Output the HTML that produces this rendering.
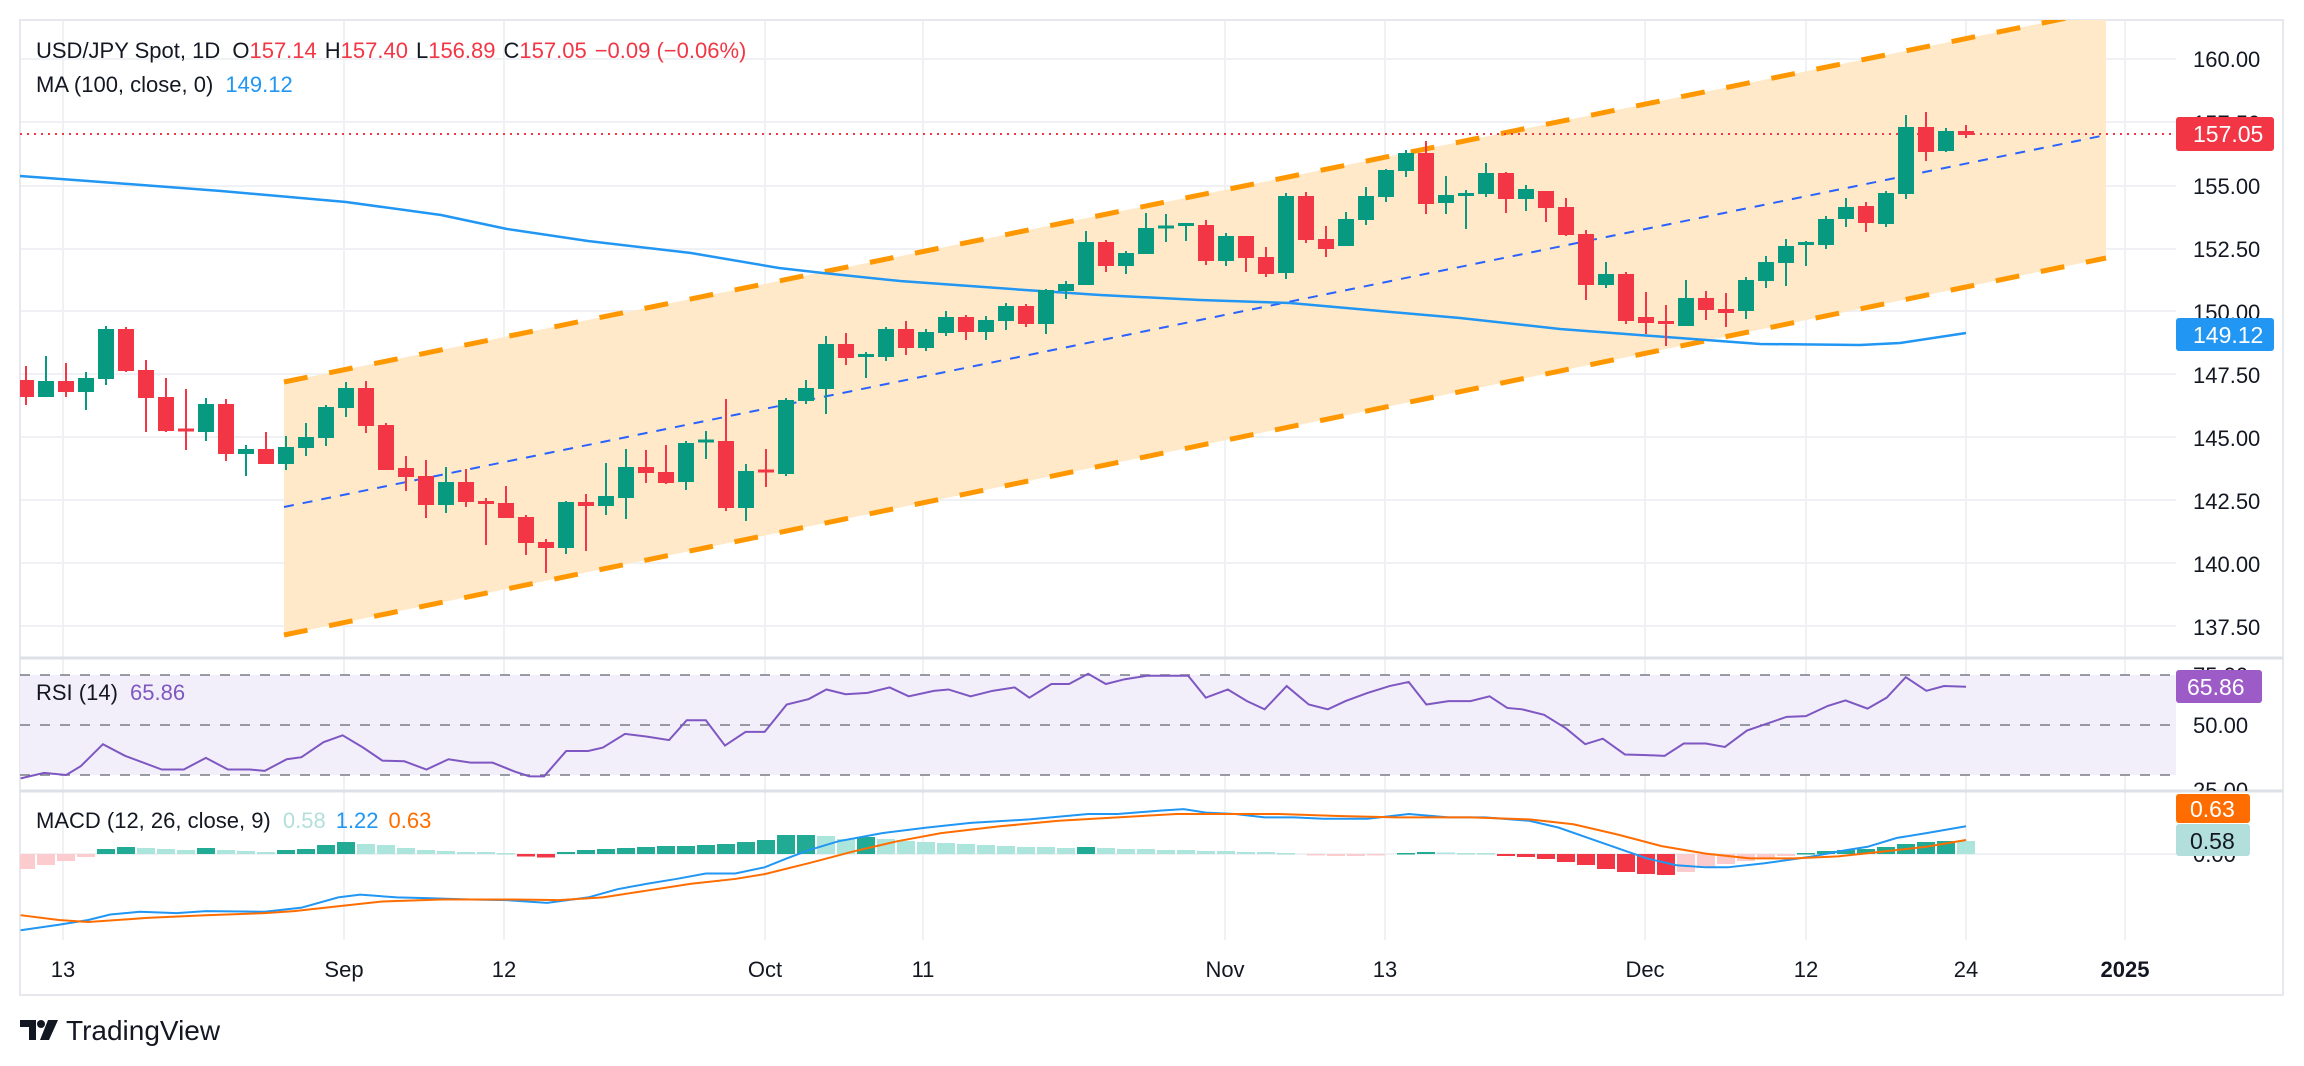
<!DOCTYPE html>
<html><head><meta charset="utf-8"><style>
html,body{margin:0;padding:0;background:#fff;}
svg{display:block;font-family:"Liberation Sans",sans-serif;}
</style></head><body>
<svg width="2304" height="1066" viewBox="0 0 2304 1066" xmlns="http://www.w3.org/2000/svg">
<defs>
<clipPath id="cm"><rect x="20" y="20" width="2156" height="638"/></clipPath>
<clipPath id="cr"><rect x="20" y="660" width="2264" height="131"/></clipPath>
<clipPath id="cd"><rect x="20" y="793" width="2156" height="152"/></clipPath>
</defs>
<rect x="0" y="0" width="2304" height="1066" fill="#fff"/>
<g stroke="#f0f1f4" stroke-width="2">
<line x1="20" y1="59" x2="2176" y2="59"/><line x1="20" y1="122" x2="2176" y2="122"/><line x1="20" y1="186" x2="2176" y2="186"/><line x1="20" y1="249" x2="2176" y2="249"/><line x1="20" y1="311" x2="2176" y2="311"/><line x1="20" y1="374" x2="2176" y2="374"/><line x1="20" y1="437" x2="2176" y2="437"/><line x1="20" y1="500" x2="2176" y2="500"/><line x1="20" y1="563" x2="2176" y2="563"/><line x1="20" y1="626" x2="2176" y2="626"/>
<line x1="63" y1="20" x2="63" y2="940"/><line x1="344" y1="20" x2="344" y2="940"/><line x1="504" y1="20" x2="504" y2="940"/><line x1="765" y1="20" x2="765" y2="940"/><line x1="923" y1="20" x2="923" y2="940"/><line x1="1225" y1="20" x2="1225" y2="940"/><line x1="1385" y1="20" x2="1385" y2="940"/><line x1="1645" y1="20" x2="1645" y2="940"/><line x1="1806" y1="20" x2="1806" y2="940"/><line x1="1966" y1="20" x2="1966" y2="940"/><line x1="2125" y1="20" x2="2125" y2="940"/>
</g>
<rect x="20" y="20" width="2263" height="975" fill="none" stroke="#e6e8ee" stroke-width="2"/>
<line x1="20" y1="658" x2="2283" y2="658" stroke="#dde0e6" stroke-width="3"/>
<line x1="20" y1="791" x2="2283" y2="791" stroke="#dde0e6" stroke-width="3"/>

<g clip-path="url(#cm)">
  <polygon points="284,382 2106,10 2106,258 284,635" fill="#ffe9c9"/>
  <line x1="284" y1="382" x2="2106" y2="10" stroke="#ff9800" stroke-width="5" stroke-dasharray="24,22"/>
  <line x1="284" y1="635" x2="2106" y2="258" stroke="#ff9800" stroke-width="5" stroke-dasharray="24,22"/>
  <line x1="284" y1="507" x2="2106" y2="135" stroke="#2962ff" stroke-width="2" stroke-dasharray="10,9"/>
  <polyline fill="none" stroke="#2196f3" stroke-width="2.5" points="20,176 88,181 221,191 346,202 441,215 507,229 588,241 691,253 779,268 823,273 900,281 1025,290 1100,295 1200,300 1290,303 1380,311 1460,318 1560,329 1666,337 1760,344 1860,345 1900,343 1966,333"/>
  <line x1="20" y1="134" x2="2176" y2="134" stroke="#f23645" stroke-width="2" stroke-dasharray="2,5"/>
  <g stroke="#089981" stroke-width="2">
<line x1="46" y1="356" x2="46" y2="397"/><line x1="86" y1="372" x2="86" y2="410"/><line x1="106" y1="326" x2="106" y2="385"/><line x1="206" y1="398" x2="206" y2="441"/><line x1="246" y1="445" x2="246" y2="476"/><line x1="286" y1="436" x2="286" y2="470"/><line x1="306" y1="423" x2="306" y2="456"/><line x1="326" y1="405" x2="326" y2="446"/><line x1="346" y1="382" x2="346" y2="417"/><line x1="446" y1="467" x2="446" y2="513"/><line x1="566" y1="501" x2="566" y2="554"/><line x1="606" y1="463" x2="606" y2="515"/><line x1="626" y1="449" x2="626" y2="519"/><line x1="686" y1="441" x2="686" y2="490"/><line x1="706" y1="431" x2="706" y2="459"/><line x1="746" y1="464" x2="746" y2="521"/><line x1="786" y1="398" x2="786" y2="476"/><line x1="806" y1="380" x2="806" y2="404"/><line x1="826" y1="336" x2="826" y2="414"/><line x1="866" y1="352" x2="866" y2="378"/><line x1="886" y1="327" x2="886" y2="361"/><line x1="926" y1="329" x2="926" y2="351"/><line x1="946" y1="311" x2="946" y2="336"/><line x1="986" y1="316" x2="986" y2="340"/><line x1="1006" y1="303" x2="1006" y2="330"/><line x1="1046" y1="289" x2="1046" y2="334"/><line x1="1066" y1="281" x2="1066" y2="299"/><line x1="1086" y1="231" x2="1086" y2="285"/><line x1="1126" y1="251" x2="1126" y2="274"/><line x1="1146" y1="213" x2="1146" y2="254"/><line x1="1166" y1="214" x2="1166" y2="242"/><line x1="1186" y1="223" x2="1186" y2="241"/><line x1="1226" y1="233" x2="1226" y2="266"/><line x1="1286" y1="193" x2="1286" y2="279"/><line x1="1346" y1="212" x2="1346" y2="246"/><line x1="1366" y1="187" x2="1366" y2="225"/><line x1="1386" y1="169" x2="1386" y2="202"/><line x1="1406" y1="150" x2="1406" y2="177"/><line x1="1446" y1="176" x2="1446" y2="214"/><line x1="1466" y1="190" x2="1466" y2="229"/><line x1="1486" y1="163" x2="1486" y2="197"/><line x1="1526" y1="185" x2="1526" y2="211"/><line x1="1606" y1="262" x2="1606" y2="288"/><line x1="1686" y1="280" x2="1686" y2="326"/><line x1="1746" y1="277" x2="1746" y2="319"/><line x1="1766" y1="256" x2="1766" y2="288"/><line x1="1786" y1="239" x2="1786" y2="286"/><line x1="1806" y1="241" x2="1806" y2="266"/><line x1="1826" y1="216" x2="1826" y2="249"/><line x1="1846" y1="198" x2="1846" y2="227"/><line x1="1886" y1="191" x2="1886" y2="227"/><line x1="1906" y1="115" x2="1906" y2="199"/><line x1="1946" y1="128" x2="1946" y2="152"/>
  </g>
  <g fill="#089981">
<rect x="38" y="381" width="16" height="16"/><rect x="78" y="378" width="16" height="14"/><rect x="98" y="329" width="16" height="50"/><rect x="198" y="404" width="16" height="28"/><rect x="238" y="449" width="16" height="5"/><rect x="278" y="447" width="16" height="17"/><rect x="298" y="437" width="16" height="11"/><rect x="318" y="407" width="16" height="31"/><rect x="338" y="388" width="16" height="20"/><rect x="438" y="482" width="16" height="23"/><rect x="558" y="502" width="16" height="46"/><rect x="598" y="496" width="16" height="10"/><rect x="618" y="467" width="16" height="31"/><rect x="678" y="443" width="16" height="39"/><rect x="698" y="439.5" width="16" height="3"/><rect x="738" y="471" width="16" height="37"/><rect x="778" y="400" width="16" height="74"/><rect x="798" y="388" width="16" height="13"/><rect x="818" y="344" width="16" height="45"/><rect x="858" y="354" width="16" height="3"/><rect x="878" y="329" width="16" height="28"/><rect x="918" y="332" width="16" height="16"/><rect x="938" y="317" width="16" height="16"/><rect x="978" y="320" width="16" height="12"/><rect x="998" y="306" width="16" height="15"/><rect x="1038" y="290" width="16" height="34"/><rect x="1058" y="284" width="16" height="7"/><rect x="1078" y="242" width="16" height="43"/><rect x="1118" y="253" width="16" height="13"/><rect x="1138" y="228" width="16" height="26"/><rect x="1158" y="225.5" width="16" height="3"/><rect x="1178" y="223" width="16" height="3"/><rect x="1218" y="236" width="16" height="25"/><rect x="1278" y="196" width="16" height="77"/><rect x="1338" y="219" width="16" height="27"/><rect x="1358" y="196" width="16" height="24"/><rect x="1378" y="170" width="16" height="27"/><rect x="1398" y="153" width="16" height="18"/><rect x="1438" y="195" width="16" height="8"/><rect x="1458" y="193" width="16" height="3"/><rect x="1478" y="173" width="16" height="21"/><rect x="1518" y="189" width="16" height="10"/><rect x="1598" y="274" width="16" height="11"/><rect x="1678" y="298" width="16" height="28"/><rect x="1738" y="280" width="16" height="31"/><rect x="1758" y="262" width="16" height="19"/><rect x="1778" y="246" width="16" height="17"/><rect x="1798" y="242" width="16" height="3"/><rect x="1818" y="219" width="16" height="26"/><rect x="1838" y="207" width="16" height="12"/><rect x="1878" y="193" width="16" height="31"/><rect x="1898" y="127" width="16" height="67"/><rect x="1938" y="131" width="16" height="20"/>
  </g>
  <g stroke="#f23645" stroke-width="2">
<line x1="26" y1="366" x2="26" y2="405"/><line x1="66" y1="363" x2="66" y2="397"/><line x1="126" y1="327" x2="126" y2="372"/><line x1="146" y1="360" x2="146" y2="432"/><line x1="166" y1="378" x2="166" y2="432"/><line x1="186" y1="389" x2="186" y2="450"/><line x1="226" y1="399" x2="226" y2="461"/><line x1="266" y1="432" x2="266" y2="464"/><line x1="366" y1="381" x2="366" y2="433"/><line x1="386" y1="423" x2="386" y2="470"/><line x1="406" y1="456" x2="406" y2="491"/><line x1="426" y1="460" x2="426" y2="518"/><line x1="466" y1="469" x2="466" y2="507"/><line x1="486" y1="498" x2="486" y2="545"/><line x1="506" y1="486" x2="506" y2="518"/><line x1="526" y1="515" x2="526" y2="555"/><line x1="546" y1="539" x2="546" y2="573"/><line x1="586" y1="494" x2="586" y2="551"/><line x1="646" y1="450" x2="646" y2="483"/><line x1="666" y1="445" x2="666" y2="484"/><line x1="726" y1="399" x2="726" y2="511"/><line x1="766" y1="449" x2="766" y2="487"/><line x1="846" y1="333" x2="846" y2="365"/><line x1="906" y1="321" x2="906" y2="355"/><line x1="966" y1="315" x2="966" y2="340"/><line x1="1026" y1="304" x2="1026" y2="327"/><line x1="1106" y1="240" x2="1106" y2="272"/><line x1="1206" y1="220" x2="1206" y2="265"/><line x1="1246" y1="236" x2="1246" y2="272"/><line x1="1266" y1="247" x2="1266" y2="277"/><line x1="1306" y1="192" x2="1306" y2="243"/><line x1="1326" y1="226" x2="1326" y2="257"/><line x1="1426" y1="141" x2="1426" y2="214"/><line x1="1506" y1="172" x2="1506" y2="213"/><line x1="1546" y1="191" x2="1546" y2="222"/><line x1="1566" y1="198" x2="1566" y2="236"/><line x1="1586" y1="230" x2="1586" y2="300"/><line x1="1626" y1="272" x2="1626" y2="324"/><line x1="1646" y1="292" x2="1646" y2="334"/><line x1="1666" y1="305" x2="1666" y2="346"/><line x1="1706" y1="291" x2="1706" y2="320"/><line x1="1726" y1="293" x2="1726" y2="327"/><line x1="1866" y1="202" x2="1866" y2="232"/><line x1="1926" y1="112" x2="1926" y2="161"/><line x1="1966" y1="125" x2="1966" y2="138"/>
  </g>
  <g fill="#f23645">
<rect x="18" y="380" width="16" height="17"/><rect x="58" y="381" width="16" height="11"/><rect x="118" y="329" width="16" height="42"/><rect x="138" y="370" width="16" height="28"/><rect x="158" y="397" width="16" height="34"/><rect x="178" y="428.5" width="16" height="3"/><rect x="218" y="404" width="16" height="50"/><rect x="258" y="449" width="16" height="15"/><rect x="358" y="388" width="16" height="38"/><rect x="378" y="425" width="16" height="45"/><rect x="398" y="468" width="16" height="9"/><rect x="418" y="476" width="16" height="29"/><rect x="458" y="482" width="16" height="20"/><rect x="478" y="501" width="16" height="3"/><rect x="498" y="503" width="16" height="15"/><rect x="518" y="517" width="16" height="26"/><rect x="538" y="542" width="16" height="6"/><rect x="578" y="502" width="16" height="4"/><rect x="638" y="467" width="16" height="6"/><rect x="658" y="472" width="16" height="11"/><rect x="718" y="441" width="16" height="67"/><rect x="758" y="469.5" width="16" height="3"/><rect x="838" y="344" width="16" height="14"/><rect x="898" y="329" width="16" height="19"/><rect x="958" y="317" width="16" height="15"/><rect x="1018" y="306" width="16" height="18"/><rect x="1098" y="242" width="16" height="24"/><rect x="1198" y="225" width="16" height="36"/><rect x="1238" y="236" width="16" height="22"/><rect x="1258" y="257" width="16" height="17"/><rect x="1298" y="196" width="16" height="44"/><rect x="1318" y="239" width="16" height="10"/><rect x="1418" y="153" width="16" height="51"/><rect x="1498" y="173" width="16" height="26"/><rect x="1538" y="191" width="16" height="17"/><rect x="1558" y="207" width="16" height="28"/><rect x="1578" y="234" width="16" height="51"/><rect x="1618" y="274" width="16" height="47"/><rect x="1638" y="317" width="16" height="6"/><rect x="1658" y="321" width="16" height="3"/><rect x="1698" y="298" width="16" height="12"/><rect x="1718" y="309" width="16" height="4"/><rect x="1858" y="206" width="16" height="17"/><rect x="1918" y="127" width="16" height="25"/><rect x="1958" y="131" width="16" height="4"/>
  </g>
</g>

<!-- RSI -->
<g clip-path="url(#cr)">
  <rect x="20" y="675" width="2156" height="100" fill="#f2effa"/>
  <line x1="20" y1="675" x2="2176" y2="675" stroke="#787b86" stroke-width="1.5" stroke-dasharray="10,10"/>
  <line x1="20" y1="725" x2="2176" y2="725" stroke="#787b86" stroke-width="1.5" stroke-dasharray="10,10"/>
  <line x1="20" y1="775" x2="2176" y2="775" stroke="#787b86" stroke-width="1.5" stroke-dasharray="10,10"/>
  <g transform="scale(1.4705,0.684)">
  <polyline vector-effect="non-scaling-stroke" fill="none" stroke="#7e57c2" stroke-width="2" points="14,1138 30,1130 45,1133 55,1120 70,1088 85,1105 110,1125 125,1125 140,1108 155,1125 170,1125 180,1127 195,1110 205,1107 220,1085 233,1075 247,1093 260,1112 275,1113 290,1125 305,1110 320,1115 335,1115 350,1128 360,1135 370,1135 385,1098 400,1098 410,1093 425,1073 440,1077 455,1082 467,1053 480,1053 493,1090 507,1070 520,1070 535,1030 550,1022 562,1008 575,1015 590,1013 605,1005 618,1018 635,1010 645,1008 660,1018 675,1010 690,1005 700,1020 715,1000 727,1000 740,985 752,1000 765,993 780,988 808,988 820,1020 835,1008 848,1025 860,1037 875,1003 890,1030 903,1037 915,1025 930,1013 945,1003 958,997 970,1030 985,1025 1000,1025 1013,1018 1025,1035 1035,1037 1050,1045 1065,1065 1078,1088 1090,1080 1105,1103 1120,1104 1132,1105 1145,1087 1160,1087 1173,1092 1188,1068 1203,1057 1215,1048 1228,1047 1243,1032 1255,1024 1270,1036 1283,1020 1296,990 1310,1010 1322,1003 1337,1004"/>
  </g>
  <text x="2193" y="683" font-size="22" fill="#131722">75.00</text>
  <text x="2193" y="733" font-size="22" fill="#131722">50.00</text>
  <text x="2193" y="798" font-size="22" fill="#131722">25.00</text>
</g>

<!-- MACD -->
<g clip-path="url(#cd)">
  <line x1="20" y1="854" x2="2176" y2="854" stroke="#f0f1f4" stroke-width="2"/>
  <g fill="#fccbcd">
<rect x="17" y="854" width="18" height="15"/><rect x="37" y="854" width="18" height="11"/><rect x="57" y="854" width="18" height="7"/><rect x="77" y="854" width="18" height="3"/>
<rect x="1307" y="854" width="18" height="1.5"/><rect x="1327" y="854" width="18" height="2"/><rect x="1347" y="854" width="18" height="2"/><rect x="1367" y="854" width="18" height="1.5"/>
<rect x="1677" y="854" width="18" height="18"/><rect x="1697" y="854" width="18" height="14"/><rect x="1717" y="854" width="18" height="10"/><rect x="1737" y="854" width="18" height="7"/><rect x="1757" y="854" width="18" height="4"/><rect x="1777" y="854" width="18" height="2"/>
  </g>
  <g fill="#f23645">
<rect x="517" y="854" width="18" height="2.5"/><rect x="537" y="854" width="18" height="3.5"/>
<rect x="1497" y="854" width="18" height="2"/><rect x="1517" y="854" width="18" height="3"/><rect x="1537" y="854" width="18" height="5"/><rect x="1557" y="854" width="18" height="8"/><rect x="1577" y="854" width="18" height="11"/><rect x="1597" y="854" width="18" height="15"/><rect x="1617" y="854" width="18" height="18"/><rect x="1637" y="854" width="18" height="20"/><rect x="1657" y="854" width="18" height="21"/>
  </g>
  <g fill="#22ab94">
<rect x="97" y="849" width="18" height="5"/><rect x="117" y="847" width="18" height="7"/><rect x="197" y="848" width="18" height="6"/><rect x="277" y="850" width="18" height="4"/><rect x="297" y="849" width="18" height="5"/><rect x="317" y="845" width="18" height="9"/><rect x="337" y="842" width="18" height="12"/>
<rect x="557" y="852" width="18" height="2"/><rect x="577" y="850" width="18" height="4"/><rect x="597" y="849" width="18" height="5"/><rect x="617" y="848" width="18" height="6"/><rect x="637" y="847" width="18" height="7"/><rect x="657" y="846" width="18" height="8"/><rect x="677" y="846" width="18" height="8"/><rect x="697" y="845" width="18" height="9"/><rect x="717" y="844" width="18" height="10"/><rect x="737" y="842" width="18" height="12"/><rect x="757" y="840" width="18" height="14"/><rect x="777" y="835" width="18" height="19"/><rect x="797" y="835" width="18" height="19"/><rect x="857" y="837" width="18" height="17"/><rect x="1077" y="847" width="18" height="7"/>
<rect x="1397" y="853" width="18" height="1.5"/><rect x="1417" y="852" width="18" height="2"/>
<rect x="1797" y="853" width="18" height="1.5"/><rect x="1817" y="851" width="18" height="3"/><rect x="1837" y="850" width="18" height="4"/><rect x="1857" y="849" width="18" height="5"/><rect x="1877" y="847" width="18" height="7"/><rect x="1897" y="844" width="18" height="10"/><rect x="1917" y="842" width="18" height="12"/><rect x="1937" y="841" width="18" height="13"/>
  </g>
  <g fill="#acE5dc">
<rect x="137" y="848" width="18" height="6"/><rect x="157" y="849" width="18" height="5"/><rect x="177" y="850" width="18" height="4"/><rect x="217" y="850" width="18" height="4"/><rect x="237" y="851" width="18" height="3"/><rect x="257" y="852" width="18" height="2"/>
<rect x="357" y="844" width="18" height="10"/><rect x="377" y="845" width="18" height="9"/><rect x="397" y="848" width="18" height="6"/><rect x="417" y="850" width="18" height="4"/><rect x="437" y="851" width="18" height="3"/><rect x="457" y="852" width="18" height="2"/><rect x="477" y="852" width="18" height="2"/><rect x="497" y="853" width="18" height="1.5"/>
<rect x="817" y="836" width="18" height="18"/><rect x="837" y="839" width="18" height="15"/><rect x="877" y="839" width="18" height="15"/><rect x="897" y="841" width="18" height="13"/><rect x="917" y="842" width="18" height="12"/><rect x="937" y="843" width="18" height="11"/><rect x="957" y="844" width="18" height="10"/><rect x="977" y="845" width="18" height="9"/><rect x="997" y="846" width="18" height="8"/><rect x="1017" y="847" width="18" height="7"/><rect x="1037" y="847" width="18" height="7"/><rect x="1057" y="848" width="18" height="6"/><rect x="1097" y="848" width="18" height="6"/><rect x="1117" y="849" width="18" height="5"/><rect x="1137" y="849" width="18" height="5"/><rect x="1157" y="850" width="18" height="4"/><rect x="1177" y="850" width="18" height="4"/><rect x="1197" y="851" width="18" height="3"/><rect x="1217" y="851" width="18" height="3"/><rect x="1237" y="852" width="18" height="2"/><rect x="1257" y="852" width="18" height="2"/><rect x="1277" y="853" width="18" height="1.5"/><rect x="1437" y="852.5" width="18" height="1.5"/><rect x="1457" y="853" width="18" height="1.5"/><rect x="1477" y="853" width="18" height="1.5"/>
<rect x="1957" y="841" width="18" height="13"/>
  </g>
  <g transform="scale(1.4705,0.684)">
  <polyline vector-effect="non-scaling-stroke" fill="none" stroke="#2196f3" stroke-width="2" points="14,1360 40,1352 60,1345 75,1337 95,1333 120,1335 140,1332 180,1333 205,1327 230,1312 245,1308 270,1312 290,1313 320,1315 345,1316 372,1320 400,1312 420,1300 440,1292 460,1285 480,1277 500,1277 520,1268 535,1255 550,1243 570,1230 600,1218 630,1210 660,1203 700,1198 740,1190 760,1190 790,1185 805,1183 820,1188 840,1190 860,1195 880,1195 900,1197 930,1197 958,1190 985,1195 1010,1195 1040,1200 1060,1210 1080,1225 1100,1240 1120,1255 1140,1265 1160,1268 1175,1268 1200,1262 1230,1253 1255,1243 1270,1238 1290,1225 1310,1218 1337,1208"/>
  <polyline vector-effect="non-scaling-stroke" fill="none" stroke="#ff6d00" stroke-width="2" points="14,1338 40,1345 60,1348 100,1342 140,1338 180,1335 200,1332 230,1325 260,1318 300,1315 350,1315 380,1316 410,1312 440,1302 470,1292 500,1285 520,1278 550,1262 580,1245 610,1230 640,1218 680,1208 720,1200 760,1195 800,1190 830,1190 870,1190 910,1193 950,1195 1000,1195 1040,1198 1070,1205 1100,1220 1130,1237 1160,1248 1190,1255 1220,1255 1250,1252 1280,1245 1310,1238 1337,1228"/>
  </g>
</g>
<text x="2193" y="862" font-size="22" fill="#131722">0.00</text>

<!-- price axis -->
<g font-size="22" fill="#131722">
<text x="2193" y="67">160.00</text>
<text x="2193" y="131">157.50</text>
<text x="2193" y="194">155.00</text>
<text x="2193" y="257">152.50</text>
<text x="2193" y="320">150.00</text>
<text x="2193" y="383">147.50</text>
<text x="2193" y="446">145.00</text>
<text x="2193" y="509">142.50</text>
<text x="2193" y="572">140.00</text>
<text x="2193" y="635">137.50</text>
</g>
<rect x="2176" y="117" width="98" height="34" rx="3" fill="#f23645"/>
<text x="2193" y="142" font-size="23" fill="#fff">157.05</text>
<rect x="2176" y="318" width="98" height="33" rx="3" fill="#2196f3"/>
<text x="2193" y="343" font-size="23" fill="#fff">149.12</text>
<rect x="2176" y="670" width="86" height="33" rx="3" fill="#9c5bc6"/>
<text x="2187" y="695" font-size="23" fill="#fff">65.86</text>
<rect x="2176" y="794" width="74" height="29" rx="3" fill="#ff6d00"/>
<text x="2190" y="817" font-size="23" fill="#fff">0.63</text>
<rect x="2176" y="824" width="74" height="32" rx="3" fill="#b2dfdb"/>
<text x="2190" y="849" font-size="23" fill="#131722">0.58</text>

<!-- time axis -->
<g font-size="22" fill="#131722" text-anchor="middle">
<text x="63" y="977">13</text>
<text x="344" y="977">Sep</text>
<text x="504" y="977">12</text>
<text x="765" y="977">Oct</text>
<text x="923" y="977">11</text>
<text x="1225" y="977">Nov</text>
<text x="1385" y="977">13</text>
<text x="1645" y="977">Dec</text>
<text x="1806" y="977">12</text>
<text x="1966" y="977">24</text>
<text x="2125" y="977" font-weight="bold">2025</text>
</g>

<!-- legends -->
<text x="36" y="58" font-size="22" fill="#131722">USD/JPY Spot, 1D <tspan dx="6">O</tspan><tspan fill="#f23645">157.14</tspan><tspan dx="8">H</tspan><tspan fill="#f23645">157.40</tspan><tspan dx="8">L</tspan><tspan fill="#f23645">156.89</tspan><tspan dx="8">C</tspan><tspan fill="#f23645">157.05</tspan><tspan dx="8" fill="#f23645">−0.09 (−0.06%)</tspan></text>
<text x="36" y="92" font-size="22" fill="#131722">MA (100, close, 0) <tspan dx="6" fill="#2196f3">149.12</tspan></text>
<text x="36" y="700" font-size="22" fill="#131722">RSI (14) <tspan dx="6" fill="#7e57c2">65.86</tspan></text>
<text x="36" y="828" font-size="22" fill="#131722">MACD (12, 26, close, 9) <tspan dx="6" fill="#b2dfdb">0.58</tspan><tspan dx="10" fill="#2196f3">1.22</tspan><tspan dx="10" fill="#ff6d00">0.63</tspan></text>

<!-- logo -->
<g fill="#131722">
<path d="M20,1020 h16 v20 h-7 v-13 h-9z"/>
<circle cx="41" cy="1024" r="4"/>
<path d="M48,1020 h10 l-9,20 h-9z"/>
</g>
<text x="66" y="1040" font-size="28" fill="#131722">TradingView</text>
</svg>
</body></html>
